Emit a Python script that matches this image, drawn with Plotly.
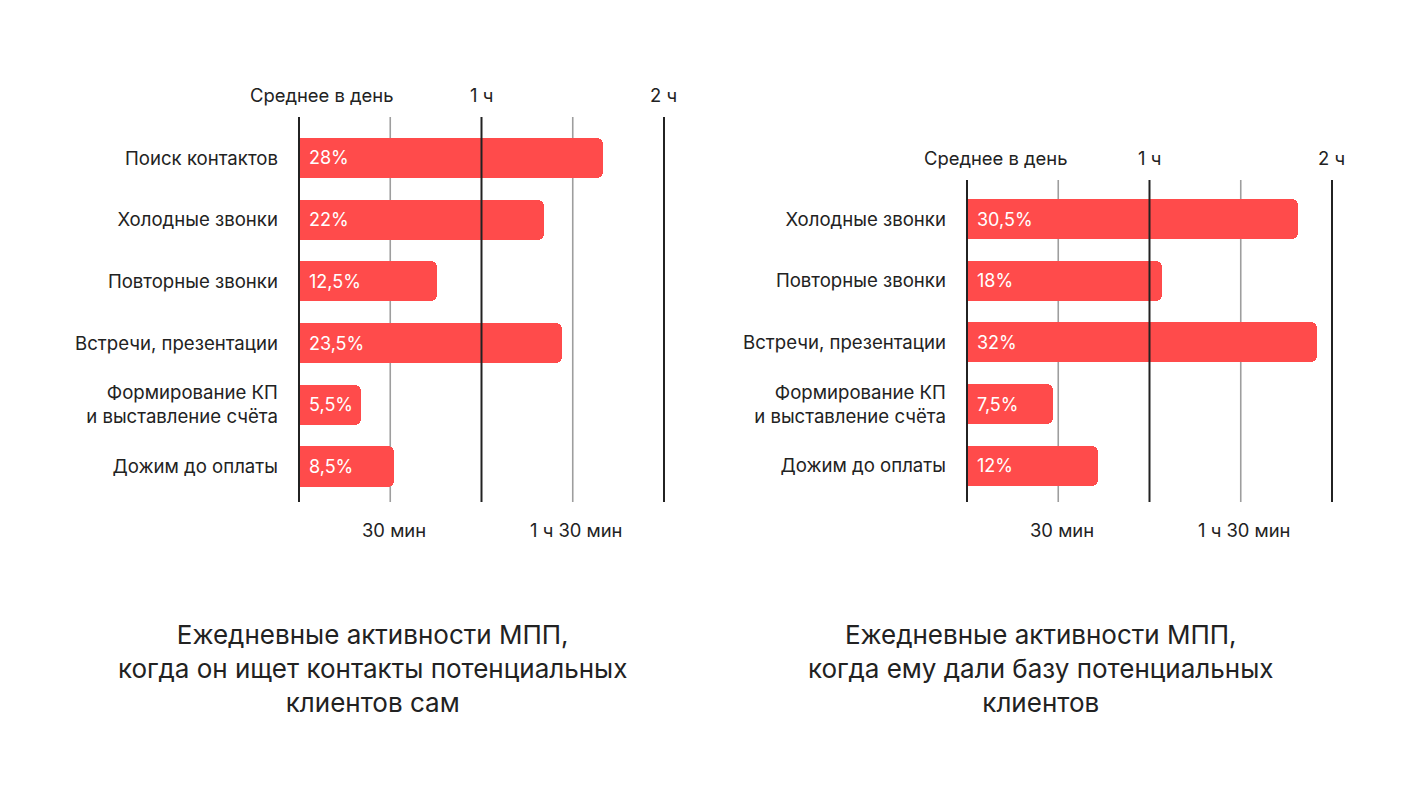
import plotly.graph_objects as go

W, H = 1418, 804

# ---------------- data ----------------
left_categories = ["Поиск контактов", "Холодные звонки", "Повторные звонки",
                   "Встречи, презентации", "Формирование КП<br>и выставление счёта",
                   "Дожим до оплаты"]
left_minutes = [99.8, 80.5, 45.3, 86.4, 20.3, 31.1]
left_labels = ["28%", "22%", "12,5%", "23,5%", "5,5%", "8,5%"]

right_categories = ["Холодные звонки", "Повторные звонки", "Встречи, презентации",
                    "Формирование КП<br>и выставление счёта", "Дожим до оплаты"]
right_minutes = [108.7, 64.1, 115.1, 28.2, 43.1]
right_labels = ["30,5%", "18%", "32%", "7,5%", "12%"]

major_ticks = [0, 60, 120]
minor_ticks = [30, 90]
top_tick_labels = ["Среднее в день", "1 ч", "2 ч"]
bottom_tick_labels = ["30 мин", "1 ч 30 мин"]

titles = ["Ежедневные активности МПП,<br>когда он ищет контакты потенциальных<br>клиентов сам",
          "Ежедневные активности МПП,<br>когда ему дали базу потенциальных<br>клиентов"]

# ---------------- style ----------------
FONT = "Inter"
BAR = "#FF4B4B"
DARK = "#222222"
GRAY = "#9E9E9E"
PX_PER_MIN = 365 / 120.0
OFF = 8  # page body margin

fig = go.Figure()

def px_x(p):
    return (p - OFF) / W

def px_y(p):
    return 1 - (p - OFF) / H

panels = [
    dict(cats=left_categories, vals=left_minutes, labels=left_labels,
         x0=299, top=117, bottom=502, first=158, xa="x", ya="y", title=titles[0],
         title_x=372, top_shift=23),
    dict(cats=right_categories, vals=right_minutes, labels=right_labels,
         x0=967, top=180, bottom=502, first=219, xa="x2", ya="y2", title=titles[1],
         title_x=1041, top_shift=29),
]
step = 61.7
annotations = []
shapes = []
for i, p in enumerate(panels):
    n = len(p["cats"])
    axn = "" if i == 0 else "2"
    xr = [-2, 125]
    dl = p["x0"] + xr[0] * PX_PER_MIN
    dr = p["x0"] + xr[1] * PX_PER_MIN
    lo = -(p["first"] - p["top"]) / step
    hi = (n - 1) + (p["bottom"] - (p["first"] + (n - 1) * step)) / step
    fig.add_trace(go.Bar(
        y=list(range(n)), x=p["vals"], orientation="h",
        marker=dict(color=BAR, line=dict(width=0)),
        width=0.65, xaxis=p["xa"], yaxis=p["ya"], hoverinfo="skip",
        showlegend=False,
    ))
    fig.layout["xaxis" + axn] = dict(
        domain=[px_x(dl), px_x(dr)], range=xr, visible=False, fixedrange=True,
        anchor=p["ya"])
    fig.layout["yaxis" + axn] = dict(
        domain=[px_y(p["bottom"]), px_y(p["top"])], range=[hi, lo],
        tickmode="array", tickvals=list(range(n)), ticktext=p["cats"],
        showgrid=False, zeroline=False, showline=False, ticks="",
        ticklabelstandoff=14, anchor=p["xa"],
        tickfont=dict(family=FONT, size=18.6, color=DARK), fixedrange=True)
    for t in minor_ticks:
        shapes.append(dict(type="line", xref=p["xa"], yref=p["ya"] + " domain",
                           x0=t, x1=t, y0=0, y1=1, layer="below",
                           line=dict(color=GRAY, width=1.6)))
    for t in major_ticks:
        shapes.append(dict(type="line", xref=p["xa"], yref=p["ya"] + " domain",
                           x0=t, x1=t, y0=0, y1=1, layer="above",
                           line=dict(color=DARK, width=2)))
    for j, lab in enumerate(p["labels"]):
        annotations.append(dict(x=0, y=j, xref=p["xa"], yref=p["ya"], text=lab,
                                xanchor="left", yanchor="middle", xshift=8,
                                showarrow=False,
                                font=dict(family=FONT, size=18, color="white")))
    for t, lab in zip(major_ticks, top_tick_labels):
        annotations.append(dict(x=t, y=1, xref=p["xa"], yref=p["ya"] + " domain",
                                text=lab, xanchor="center", yanchor="bottom",
                                xshift=p["top_shift"] if t == 0 else 0, yshift=9,
                                showarrow=False,
                                font=dict(family=FONT, size=18.4, color=DARK)))
    for t, lab in zip(minor_ticks, bottom_tick_labels):
        annotations.append(dict(x=t, y=0, xref=p["xa"], yref=p["ya"] + " domain",
                                text=lab, xanchor="center", yanchor="top",
                                xshift=4, yshift=-15, showarrow=False,
                                font=dict(family=FONT, size=18.4, color=DARK)))
    annotations.append(dict(x=px_x(p["title_x"]), y=px_y(668), xref="paper",
                            yref="paper", text=p["title"], xanchor="center",
                            yanchor="middle", align="center", showarrow=False,
                            font=dict(family=FONT, size=26, color=DARK)))

fig.update_layout(
    width=W, height=H, margin=dict(l=0, r=0, t=0, b=0),
    paper_bgcolor="white", plot_bgcolor="white",
    barcornerradius=6, bargap=0,
    shapes=shapes, annotations=annotations,
    font=dict(family=FONT, color=DARK),
)

fig.write_html("out.html", config={"displayModeBar": False})
